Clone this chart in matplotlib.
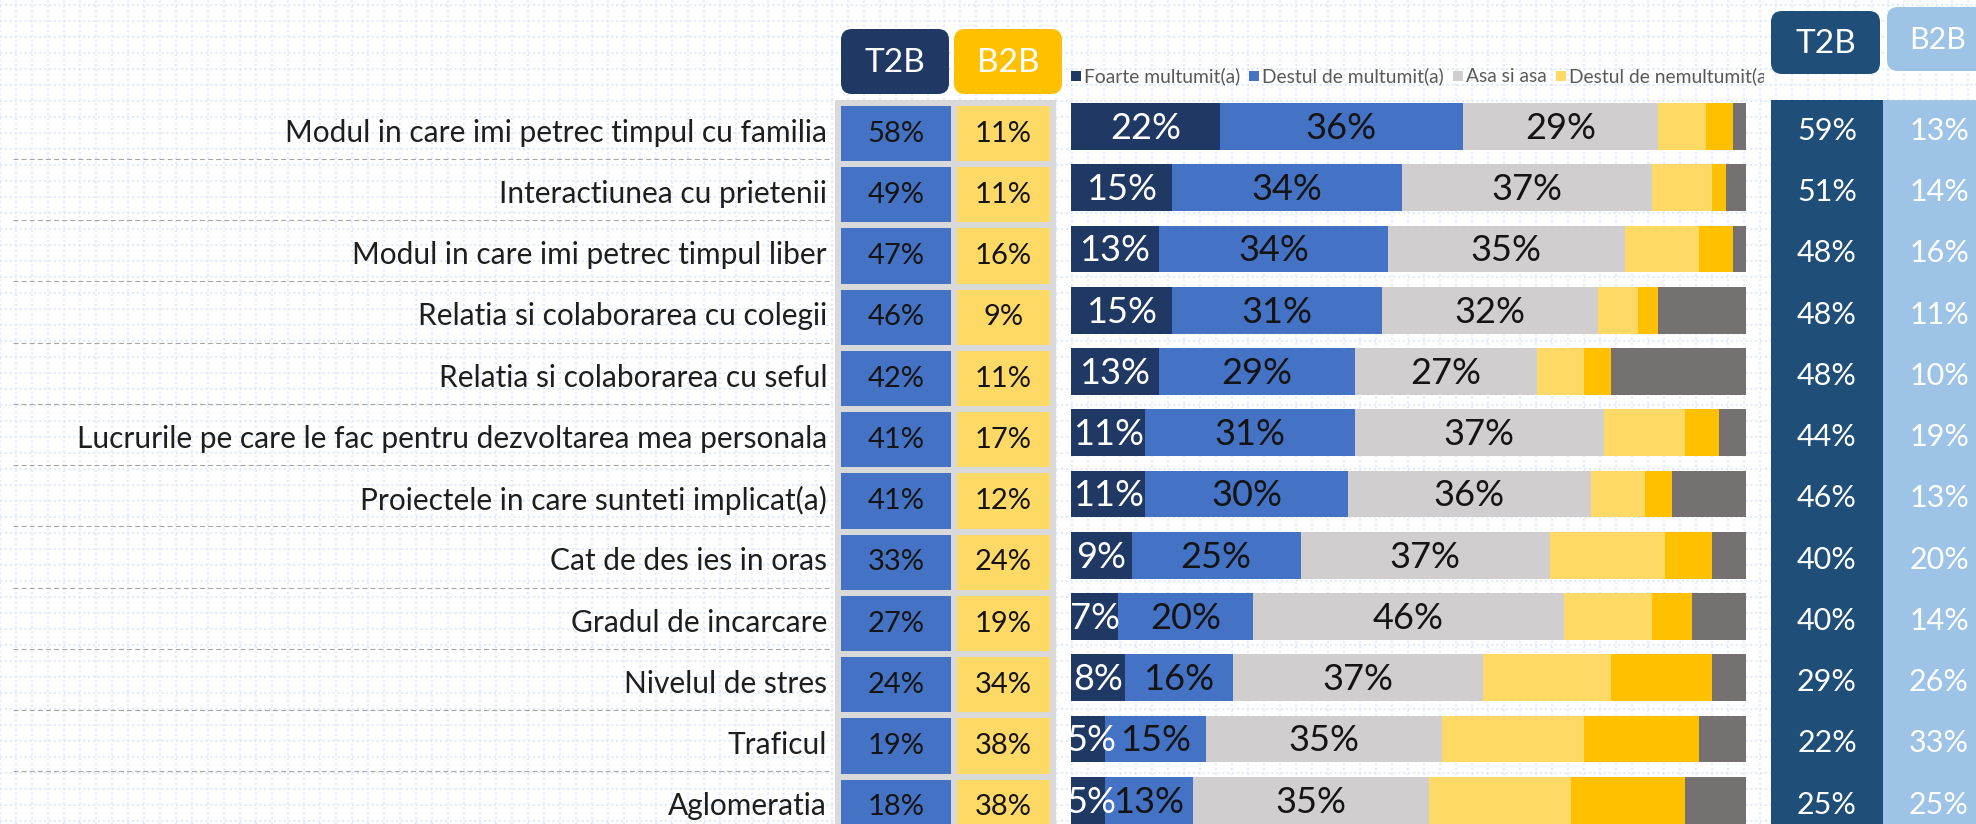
import matplotlib
matplotlib.use("Agg")
import matplotlib.pyplot as plt
from matplotlib.patches import FancyBboxPatch, Rectangle
import numpy as np

plt.rcParams['font.family'] = ['Lato', 'DejaVu Sans']

# ---- data ----
items = ["Modul in care imi petrec timpul cu familia",
         "Interactiunea cu prietenii",
         "Modul in care imi petrec timpul liber",
         "Relatia si colaborarea cu colegii",
         "Relatia si colaborarea cu seful",
         "Lucrurile pe care le fac pentru dezvoltarea mea personala",
         "Proiectele in care sunteti implicat(a)",
         "Cat de des ies in oras",
         "Gradul de incarcare",
         "Nivelul de stres",
         "Traficul",
         "Aglomeratia"]

legend_names = ["Foarte multumit(a)", "Destul de multumit(a)", "Asa si asa",
                "Destul de nemultumit(a)", "Foarte nemultumit(a)", "Nu stiu / Nu raspund"]

foarte_multumit = [22, 15, 13, 15, 13, 11, 11, 9, 7, 8, 5, 5]
destul_multumit = [36, 34, 34, 31, 29, 31, 30, 25, 20, 16, 15, 13]
asa_si_asa = [29, 37, 35, 32, 27, 37, 36, 37, 46, 37, 35, 35]
destul_nemultumit = [7, 9, 11, 6, 7, 12, 8, 17, 13, 19, 21, 21]
foarte_nemultumit = [4, 2, 5, 3, 4, 5, 4, 7, 6, 15, 17, 17]
nu_stiu = [2, 3, 2, 13, 20, 4, 11, 5, 8, 5, 7, 9]

t2b_left = [58, 49, 47, 46, 42, 41, 41, 33, 27, 24, 19, 18]
b2b_left = [11, 11, 16, 9, 11, 17, 12, 24, 19, 34, 38, 38]
t2b_right = [59, 51, 48, 48, 48, 44, 46, 40, 40, 29, 22, 25]
b2b_right = [13, 14, 16, 11, 10, 19, 13, 20, 14, 26, 33, 25]

# ---- layout / style ----
W, H = 1976, 824
ROW0, PITCH = 126.5, 61.25          # pixel centre of first row, row pitch
Y_TOP = (0 - ROW0) / PITCH
Y_BOT = (H - ROW0) / PITCH
seg_colors = ['#203864', '#4472C4', '#D0CECE', '#FFD966', '#FFC000', '#767171']
TXT = '#141414'

fig = plt.figure(figsize=(W / 100, H / 100), dpi=100)
fig.patch.set_facecolor('white')


def row_axes(x0, x1):
    ax = fig.add_axes([x0 / W, 0, (x1 - x0) / W, 1])
    ax.set_ylim(Y_BOT, Y_TOP)
    ax.axis('off')
    return ax


# background dotted grid (pixel coords)
bg = fig.add_axes([0, 0, 1, 1])
bg.set_xlim(0, W)
bg.set_ylim(H, 0)
bg.axis('off')
for gx in np.arange(0, W, 16):
    bg.axvline(gx, color='#D9E6F5', lw=1.1, ls=(0, (1.4, 1.8)), zorder=0)
for gy in np.arange(5, H, 16):
    bg.axhline(gy, color='#D9E6F5', lw=1.1, ls=(0, (1.4, 1.8)), zorder=0)

# header boxes
headers = [(841, 29, 108, 65, '#1F3864', 'T2B'),
           (954, 29, 108, 65, '#FFC000', 'B2B'),
           (1771, 11, 109, 63, '#1F4E79', 'T2B'),
           (1887, 7, 112, 64, '#9DC3E6', 'B2B')]
for hx, hy, hw, hh, hc, ht in headers:
    bg.add_patch(FancyBboxPatch((hx, hy), hw, hh, boxstyle="round,pad=0,rounding_size=11",
                                fc=hc, ec='none', zorder=2))
    tx = min(hx + hw / 2, 1938)
    fs = 22 if tx == 1938 else 24
    bg.text(tx, hy + hh / 2 + 1, ht, color='white', fontsize=fs,
            ha='center', va='center', zorder=3)

rows = np.arange(len(items))

# labels column
lab = row_axes(13, 832)
lab.set_xlim(0, 1)
for i, name in enumerate(items):
    lab.text(1 - 5 / 819, i + 0.1, name, ha='right', va='center', fontsize=21.5,
             color='#1e1e1e')
for i in range(len(items) - 1):
    lab.plot([0, 1], [i + 0.53, i + 0.53], color='#A6A6A6', lw=0.8, ls=(0, (4.5, 2.8)))

# left T2B / B2B table
lt = row_axes(835, 1062)
lt.set_xlim(0, 1)
lt.add_patch(Rectangle((0, (100 - ROW0) / PITCH), 0.974, Y_BOT + 1, fc='#D9D9D9', ec='none'))
cell_y = rows + 0.115
lt.barh(cell_y, 0.485, left=0.026, height=0.9, color='#4472C4')
lt.barh(cell_y, 0.41, left=0.537, height=0.9, color='#FFD966')
for i in rows:
    lt.text(0.2685, cell_y[i], f"{t2b_left[i]}%", ha='center', va='center',
            fontsize=21, color=TXT)
    lt.text(0.742, cell_y[i], f"{b2b_left[i]}%", ha='center', va='center',
            fontsize=21, color=TXT)

# stacked bars
bx = row_axes(1071, 1746)
bx.set_xlim(0, 100)
series = [foarte_multumit, destul_multumit, asa_si_asa,
          destul_nemultumit, foarte_nemultumit, nu_stiu]
left = np.zeros(len(items))
for k, (vals, col) in enumerate(zip(series, seg_colors)):
    vals = np.array(vals, dtype=float)
    bx.barh(rows, vals, left=left, height=0.767, color=col, ec='none')
    if k < 3:
        tc = 'white' if k == 0 else TXT
        for i in rows:
            cx = left[i] + vals[i] / 2
            if k == 0:
                cx = max(cx, 3.0)   # keep tiny first labels inside the bar
            bx.text(cx, i + 0.03, f"{int(vals[i])}%", ha='center',
                    va='center', fontsize=26, color=tc)
    left += vals

# legend (clipped like the original, only entries that start inside are drawn)
lx0, lx1 = 1071, 1764
lax = fig.add_axes([lx0 / W, (H - 92) / H, (lx1 - lx0) / W, 32 / H])
lax.set_xlim(0, lx1 - lx0)
lax.set_ylim(0, 32)
lax.axis('off')
fig.canvas.draw()
rend = fig.canvas.get_renderer()
x = 0
for name, col in zip(legend_names, seg_colors):
    if x >= lx1 - lx0:
        break
    lax.add_patch(Rectangle((x, 11), 10, 10, fc=col, ec='none', clip_on=True))
    t = lax.text(x + 13, 16, name, ha='left', va='center', fontsize=13.9,
                 color='#595959', clip_on=True)
    x = x + 13 + t.get_window_extent(rend).width + 9

# right T2B / B2B columns
rt = row_axes(1771, 1976)
rt.set_xlim(-0.5, -0.5 + 205 / 112)
body_top = (100 - ROW0) / PITCH
rt.bar([0, 1], Y_BOT - body_top + 1, bottom=body_top, width=1,
       color=['#1F4E79', '#9DC3E6'])
for i in rows:
    rt.text(0, i + 0.07, f"{t2b_right[i]}%", ha='center', va='center',
            fontsize=22, color='white')
    rt.text(1, i + 0.07, f"{b2b_right[i]}%", ha='center', va='center',
            fontsize=22, color='white')

fig.savefig('out.png', dpi=100, facecolor='white')
